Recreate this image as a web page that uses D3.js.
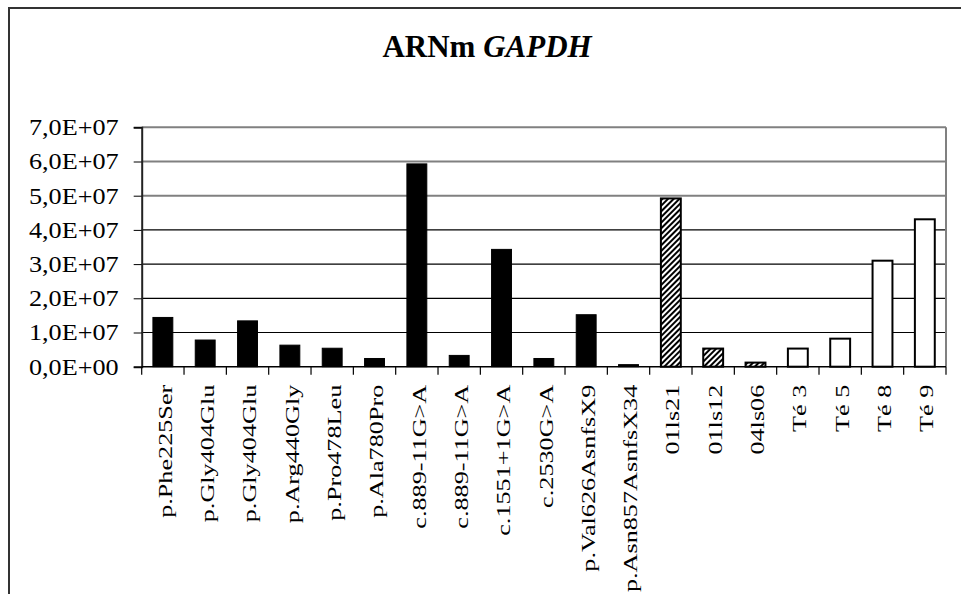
<!DOCTYPE html>
<html><head><meta charset="utf-8">
<script src="https://cdn.jsdelivr.net/npm/d3@7"></script>
<style>body{margin:0;background:#fff}svg{display:block}
svg text{font-family:"Liberation Serif",Times,"Times New Roman",serif}</style>
</head><body>
<svg id="c" width="961" height="594"></svg>
<script>
const categories = ["p.Phe225Ser","p.Gly404Glu","p.Gly404Glu","p.Arg440Gly","p.Pro478Leu","p.Ala780Pro","c.889-11G>A","c.889-11G>A","c.1551+1G>A","c.2530G>A","p.Val626AsnfsX9","p.Asn857AsnfsX34","01ls21","01ls12","04ls06","Té 3","Té 5","Té 8","Té 9"];
const values = [1.44e7,7.8e6,1.34e7,6.3e6,5.4e6,2.4e6,5.93e7,3.3e6,3.43e7,2.4e6,1.52e7,6e5,4.92e7,5.3e6,1.2e6,5.3e6,8.2e6,3.1e7,4.31e7];
const groups = ["solid","solid","solid","solid","solid","solid","solid","solid","solid","solid","solid","solid","hatch","hatch","hatch","open","open","open","open"];
const yTicks = [0,1e7,2e7,3e7,4e7,5e7,6e7,7e7];
const yTickLabels = ["0,0E+00","1,0E+07","2,0E+07","3,0E+07","4,0E+07","5,0E+07","6,0E+07","7,0E+07"];

const svg = d3.select("#c");

// outer frame
svg.append("rect").attr("x",9).attr("y",8).attr("width",1000).attr("height",700)
  .attr("fill","none").attr("stroke","#333").attr("stroke-width",2);

// hatch pattern
const defs = svg.append("defs");
defs.append("pattern").attr("id","hatch").attr("patternUnits","userSpaceOnUse")
  .attr("width",4).attr("height",4).attr("patternTransform","rotate(45)")
  .call(p=>{p.append("rect").attr("width",4).attr("height",4).attr("fill","#fff");
            p.append("rect").attr("width",2).attr("height",4).attr("fill","#000");});

const L=141.7, R=946, T=127.3, B=366.7;
const idx = categories.map((d,i)=>i);
const x = d3.scaleBand().domain(idx).range([L,R]).paddingInner(0.53).paddingOuter(0.265);
const y = d3.scaleLinear().domain([0,7e7]).range([B,T]);

// title
const title = svg.append("text").attr("x",487).attr("y",57).attr("text-anchor","middle")
  .attr("font-size",31).attr("font-weight","bold");
title.append("tspan").text("ARNm ");
title.append("tspan").attr("font-style","italic").text("GAPDH");

// gridlines
svg.append("g").selectAll("line").data(yTicks.filter(d=>d>0)).join("line")
  .attr("x1",L).attr("x2",R).attr("y1",d=>y(d)).attr("y2",d=>y(d))
  .attr("stroke",d=>d>=5e7?"#808080":"#000").attr("stroke-width",d=>d>=5e7?2:1.2);

// plot border right
svg.append("line").attr("x1",R).attr("x2",R).attr("y1",T).attr("y2",B).attr("stroke","#808080").attr("stroke-width",2);

// y axis
const yAxis = d3.axisLeft(y).tickValues(yTicks).tickSize(8).tickPadding(14)
  .tickFormat((d,i)=>yTickLabels[i]);
const gy = svg.append("g").attr("transform",`translate(${L},0)`).call(yAxis);
gy.select(".domain").attr("stroke","#222").attr("stroke-width",2);
gy.selectAll(".tick line").attr("stroke","#000");
gy.selectAll(".tick text").attr("font-size",23).attr("fill","#000")
  .attr("x",0).attr("transform","translate(-23,0) scale(1.14,1)");

// bars
svg.append("g").selectAll("rect").data(values).join("rect")
  .attr("x",(d,i)=>x(i)).attr("width",x.bandwidth())
  .attr("y",d=>y(d)).attr("height",d=>B-y(d))
  .attr("fill",(d,i)=>groups[i]==="solid"?"#000":groups[i]==="hatch"?"url(#hatch)":"#fff")
  .attr("stroke","#000").attr("stroke-width",(d,i)=>groups[i]==="solid"?1:2);

// x axis line and boundary ticks
const step = x.step();
svg.append("line").attr("x1",L).attr("x2",R).attr("y1",B).attr("y2",B).attr("stroke","#000").attr("stroke-width",1.5);
svg.append("g").selectAll("line").data(d3.range(categories.length+1)).join("line")
  .attr("x1",i=>L+i*step).attr("x2",i=>L+i*step).attr("y1",B).attr("y2",B+8)
  .attr("stroke","#000").attr("stroke-width",1.2);

// x labels
svg.append("g").selectAll("text").data(categories).join("text")
  .attr("transform",(d,i)=>`translate(${x(i)+x.bandwidth()/2+2},${B+18}) rotate(-90) scale(1.38,1)`)
  .attr("text-anchor","end").attr("dy","0.35em")
  .attr("font-size",19).attr("fill","#000")
  .text(d=>d);
</script>
</body></html>
